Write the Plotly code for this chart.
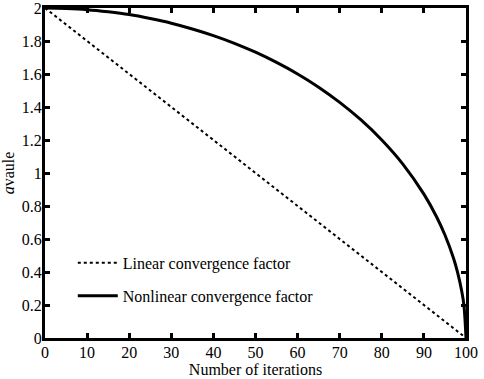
import plotly.graph_objects as go

iterations = [0, 5, 10, 15, 20, 25, 30, 35, 40, 45, 50, 55, 60, 65, 70, 75, 80, 85, 90, 93, 95, 97, 98, 99, 99.5, 100]
nonlinear = [2.0, 1.997, 1.99, 1.977, 1.96, 1.936, 1.908, 1.873, 1.833, 1.786, 1.732, 1.67, 1.6, 1.52, 1.428, 1.323, 1.2, 1.054, 0.872, 0.735, 0.624, 0.486, 0.398, 0.282, 0.2, 0.0]
linear_x = [0, 100]
linear_y = [2.0, 0.0]
x_ticks = [0, 10, 20, 30, 40, 50, 60, 70, 80, 90, 100]
y_ticks = [0, 0.2, 0.4, 0.6, 0.8, 1, 1.2, 1.4, 1.6, 1.8, 2]
y_tick_labels = ["0", "0.2", "0.4", "0.6", "0.8", "1", "1.2", "1.4", "1.6", "1.8", "2"]

FONT = "Liberation Serif"

fig = go.Figure()
fig.add_trace(go.Scatter(x=linear_x, y=linear_y, mode="lines",
                         name="Linear convergence factor", legendgroup="a",
                         line=dict(color="black", width=2, dash="dot")))
fig.add_trace(go.Scatter(x=iterations, y=nonlinear, mode="lines",
                         name="Nonlinear convergence factor", legendgroup="b",
                         line=dict(color="black", width=3, shape="spline")))

axis_common = dict(showline=True, linecolor="black", linewidth=3, mirror="ticks",
                   ticks="inside", ticklen=5, tickwidth=3, tickcolor="black",
                   showgrid=False, zeroline=False, automargin=False,
                   ticklabeloverflow="allow",
                   tickfont=dict(family=FONT, size=16, color="black"))

fig.update_layout(
    width=484, height=379,
    margin=dict(l=45, r=18, t=8, b=41),
    plot_bgcolor="white", paper_bgcolor="white",
    font=dict(family=FONT, color="black"),
    xaxis=dict(range=[0, 100], tickvals=x_ticks, **axis_common, ticklabelstandoff=-2,
               title=dict(text="Number of iterations", font=dict(family=FONT, size=16), standoff=2)),
    yaxis=dict(range=[0, 2], tickvals=y_ticks, ticktext=y_tick_labels, **axis_common,
               ticklabelstandoff=-3,
               title=dict(text="<i>a</i>vaule", font=dict(family=FONT, size=16), standoff=4)),
    legend=dict(x=0.066, y=0.279, xanchor="left", yanchor="top",
                bgcolor="rgba(0,0,0,0)", font=dict(family=FONT, size=16),
                traceorder="grouped", tracegroupgap=9, itemwidth=40),
    showlegend=True,
)

fig.write_html("out.html", config={"displayModeBar": False},
               post_script="document.body.style.margin='0px';")
